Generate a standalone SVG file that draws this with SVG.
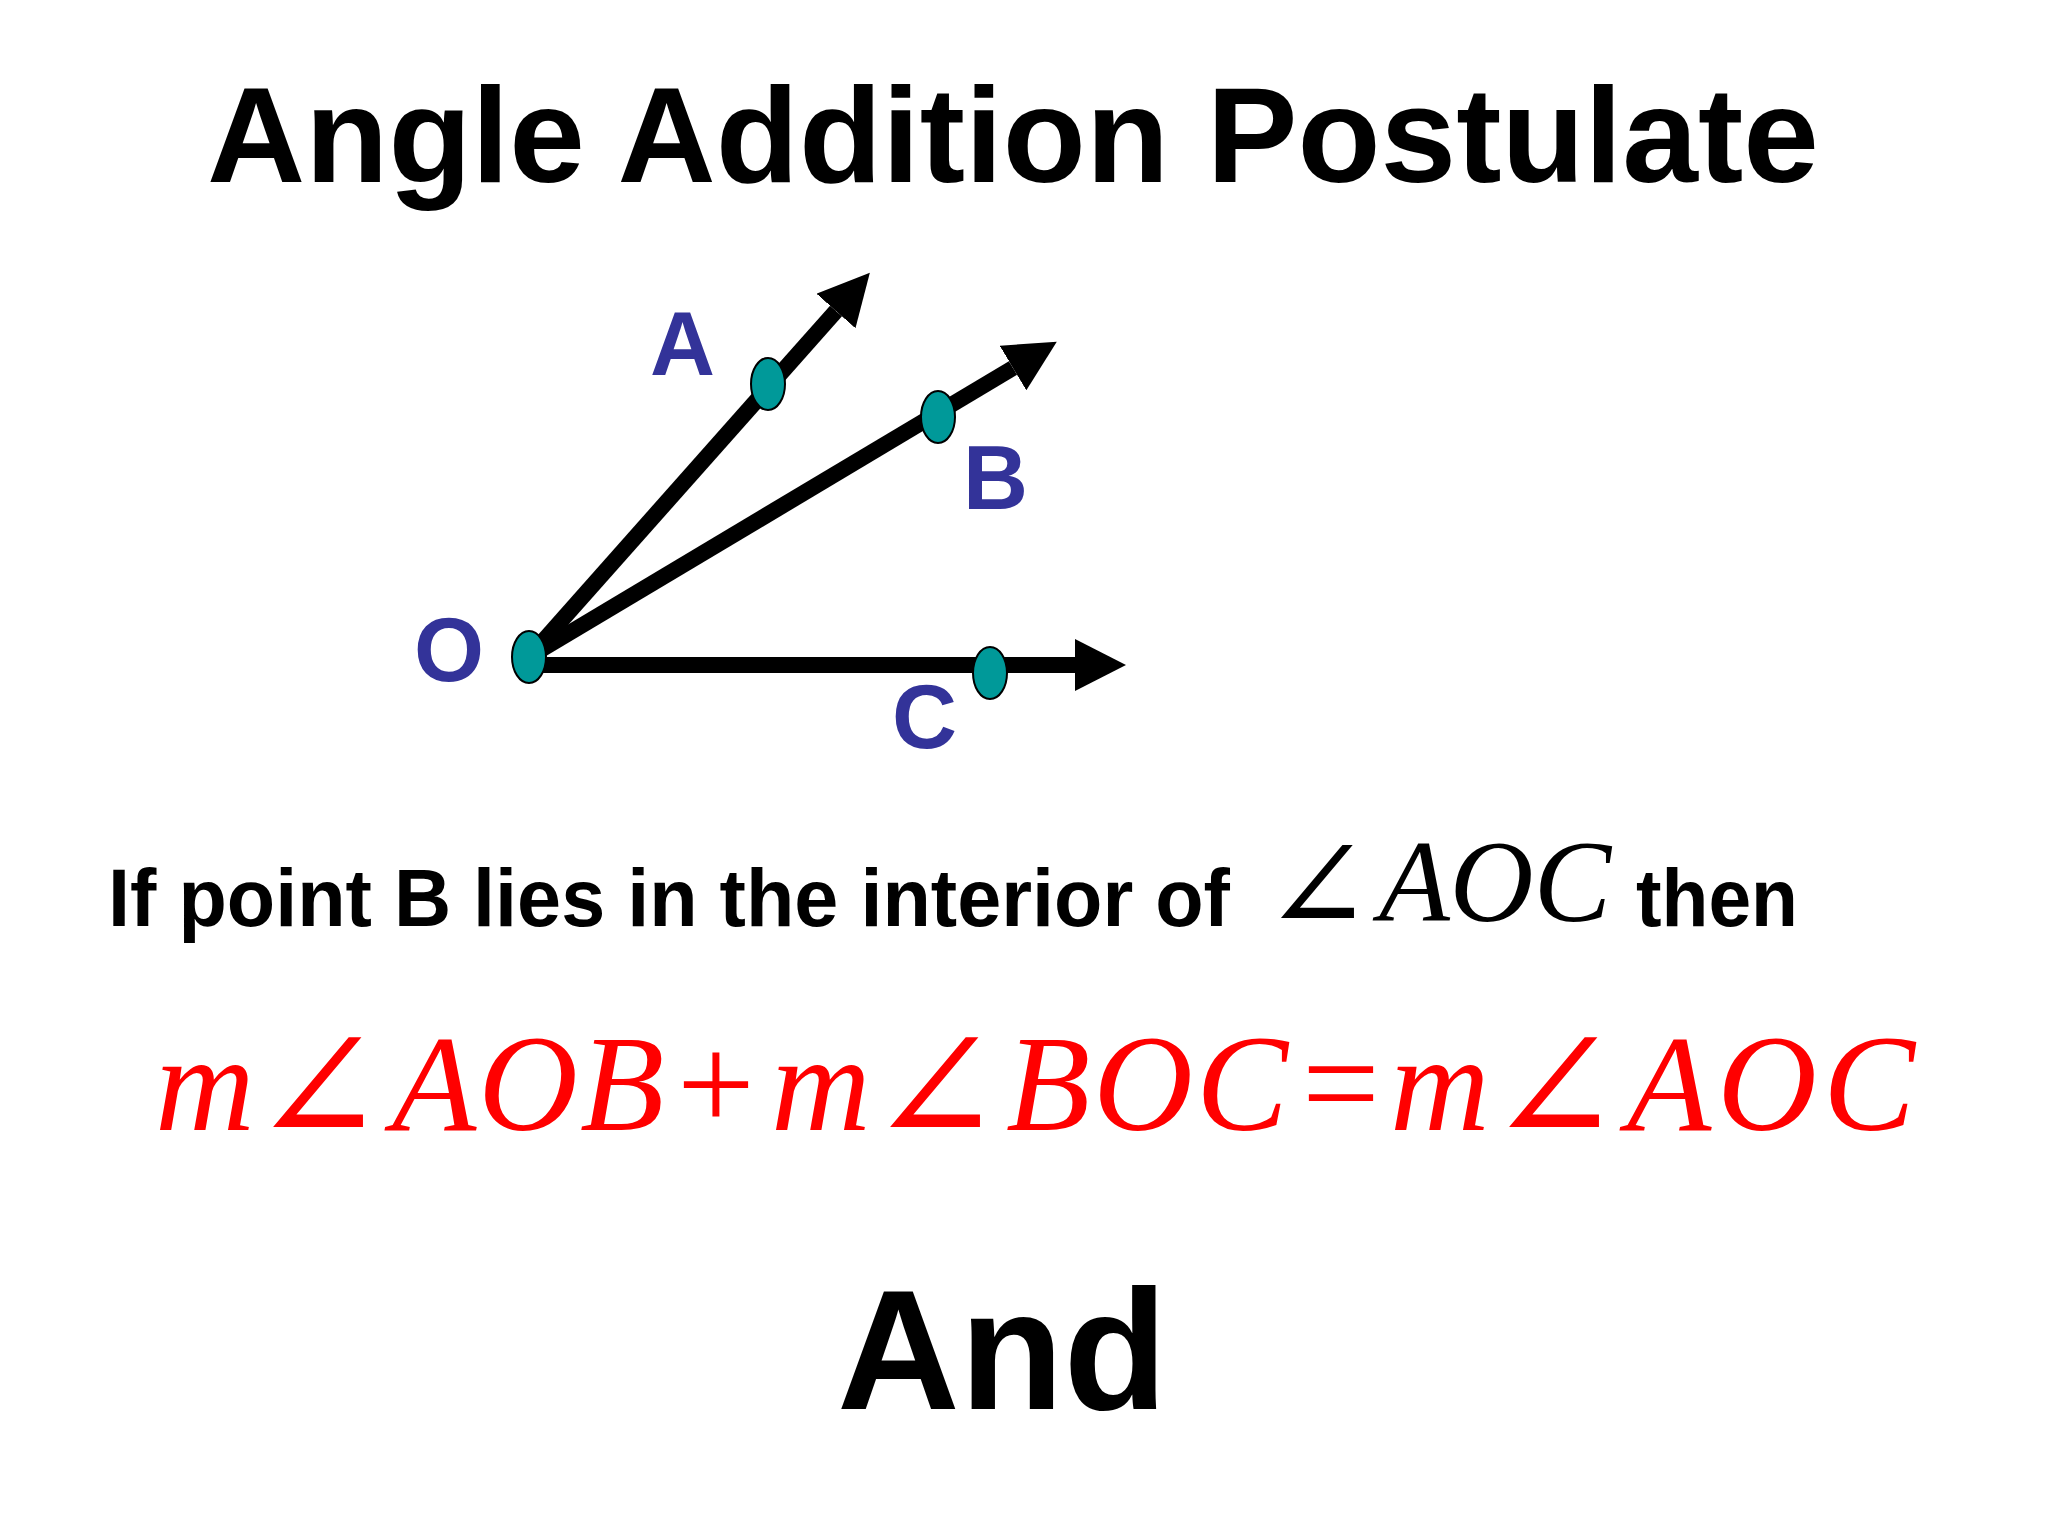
<svg xmlns="http://www.w3.org/2000/svg" width="2048" height="1536" viewBox="0 0 2048 1536">
  <style>
    .title { font-family: "Liberation Sans", Arial, sans-serif; font-weight: bold; fill: #000; }
    .lbl { font-family: "Liberation Sans", Arial, sans-serif; font-weight: bold; fill: #333399; font-size: 90px; }
    .math { font-family: "Liberation Serif", "DejaVu Serif", serif; }
    .it { font-style: italic; }
    .ray { stroke: #000; stroke-width: 16; fill: none; marker-end: url(#arrow); }
    .pt { fill: #009999; stroke: #000; stroke-width: 2; }
  </style>
  <defs>
    <marker id="arrow" markerUnits="userSpaceOnUse" markerWidth="52" markerHeight="52" refX="0" refY="26" orient="auto" viewBox="0 0 52 52">
      <path d="M0,0 L51,26 L0,52 Z" fill="#000"/>
    </marker>
  </defs>
  <rect width="2048" height="1536" fill="#ffffff"/>

  <text id="title" class="title" x="1013" y="182" font-size="136" text-anchor="middle">Angle Addition Postulate</text>

  <g id="connectors">
    <line id="ray-OC" class="ray" x1="529" y1="665" x2="1075" y2="665"/>
    <line id="ray-OB" class="ray" x1="529" y1="657" x2="1013" y2="368"/>
    <line id="ray-OA" class="ray" x1="529" y1="657" x2="836" y2="311"/>
  </g>

  <g id="node-O">
    <ellipse class="pt" cx="529" cy="657" rx="17" ry="26"/>
    <text class="lbl" x="414" y="681">O</text>
  </g>
  <g id="node-A">
    <ellipse class="pt" cx="768" cy="384" rx="17" ry="26"/>
    <text class="lbl" x="650" y="375">A</text>
  </g>
  <g id="node-B">
    <ellipse class="pt" cx="938" cy="417" rx="17" ry="26"/>
    <text class="lbl" x="963" y="509">B</text>
  </g>
  <g id="node-C">
    <ellipse class="pt" cx="990" cy="673" rx="17" ry="26"/>
    <text class="lbl" x="892" y="748">C</text>
  </g>

  <g id="statement">
    <text class="title" x="108" y="926" font-size="81" textLength="1122" lengthAdjust="spacingAndGlyphs">If point B lies in the interior of</text>
    <text class="math" font-size="116"><tspan x="1263" y="931" font-size="130">∠</tspan><tspan class="it" x="1379" y="921">AOC</tspan></text>
    <text class="title" x="1636" y="926" font-size="81" textLength="162" lengthAdjust="spacingAndGlyphs">then</text>
  </g>

  <g id="equation">
    <text class="math" font-size="138" fill="#ff0000"><tspan class="it" x="155" y="1130">m</tspan><tspan x="251" y="1143" font-size="160">∠</tspan><tspan class="it" x="392" y="1130" letter-spacing="2">AOB</tspan><tspan x="677" y="1130">+</tspan><tspan class="it" x="771" y="1130">m</tspan><tspan x="868" y="1143" font-size="160">∠</tspan><tspan class="it" x="1006" y="1130" letter-spacing="3">BOC</tspan><tspan x="1302" y="1130">=</tspan><tspan class="it" x="1390" y="1130">m</tspan><tspan x="1487" y="1143" font-size="160">∠</tspan><tspan class="it" x="1627" y="1130" letter-spacing="6">AOC</tspan></text>
  </g>

  <text id="and" class="title" x="837" y="1409" font-size="170">And</text>
</svg>
